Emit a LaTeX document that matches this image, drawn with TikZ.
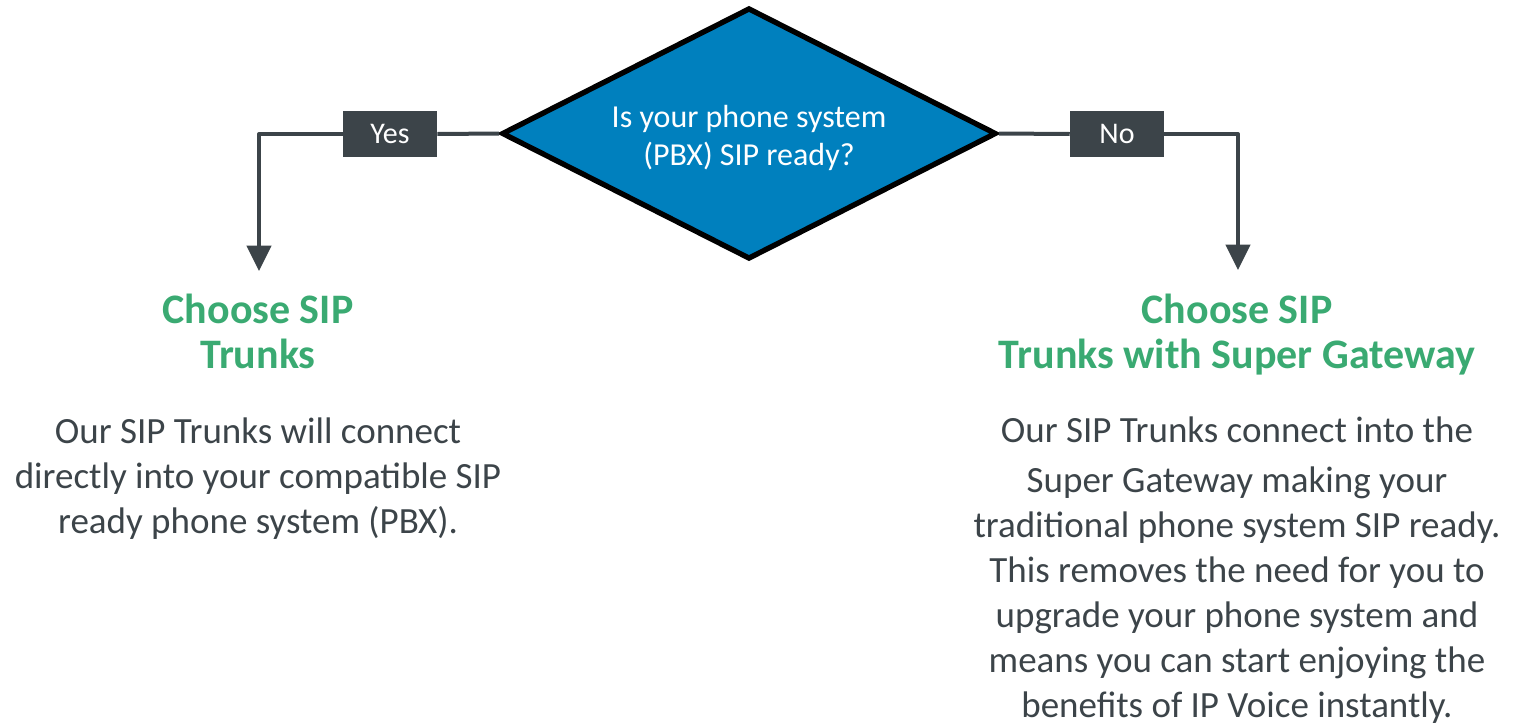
\documentclass[tikz,border=0pt]{standalone}
\usepackage{fontspec}
\setmainfont{Carlito}
\usetikzlibrary{shapes.geometric,arrows.meta,positioning}
\definecolor{diamondblue}{RGB}{0,128,190}
\definecolor{slate}{RGB}{60,68,73}
\definecolor{titlegreen}{RGB}{58,170,114}
\tikzset{
  decision/.style={diamond, aspect=1.97, draw=black, line width=4pt, fill=diamondblue,
    inner sep=0pt, minimum width=371pt, minimum height=188.5pt},
  question/.style={text=white, align=center, font=\fontsize{24}{28.5}\selectfont},
  answer/.style={fill=slate, text=white, minimum width=70.5pt, minimum height=34pt,
    inner sep=0pt, font=\fontsize{22.5}{27}\selectfont},
  link/.style={draw=slate, line width=3pt, line join=round},
  flow/.style={link, -{Triangle[width=18pt,length=19pt]}},
  heading/.style={text=titlegreen, align=center, font=\bfseries\fontsize{31.5}{33.75}\selectfont},
  blurb/.style={text=slate, align=center, font=\fontsize{27.75}{33.75}\selectfont},
}
\begin{document}
\begin{tikzpicture}[x=0.75pt,y=-0.75pt]
    \useasboundingbox (0,0) rectangle (1513,725);
    % question
    \node[decision] (q) at (749,133.5) {};
    \node[question] (qtext) at ([yshift=-3pt]q.center) {Is your phone system\\(PBX) SIP ready?};
    \node[answer] (yes) at (390,134) {Yes};
    \node[answer] (no) at (1117,134) {No};
    \coordinate (yesend) at (259,271);
    \coordinate (noend) at (1238,270);
    \draw[link] (q.west) -- (yes.east);
    \draw[flow] (yes.west) -| (yesend);
    \draw[link] (q.east) -- (no.west);
    \draw[flow] (no.east) -| (noend);
    % answers (base = last line)
    \node[heading, anchor=base] (sipt) at (258,368) {Choose SIP\\Trunks};
    \node[blurb, anchor=base] (siptext) at (258,533) {Our SIP Trunks will connect\\directly into your compatible SIP\\ready phone system (PBX).};
    \node[heading, anchor=base] (gw) at (1237,368) {Choose SIP\\Trunks with Super Gateway};
    \node[blurb, anchor=base] (gwtext) at (1237,717) {Our SIP Trunks connect into the\\[3.75pt]Super Gateway making your\\traditional phone system SIP ready.\\This removes the need for you to\\upgrade your phone system and\\means you can start enjoying the\\benefits of IP Voice instantly.};
\end{tikzpicture}
\end{document}
